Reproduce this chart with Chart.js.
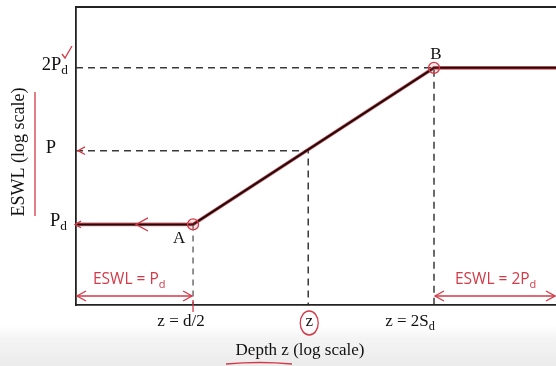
<!DOCTYPE html>
<html>
<head>
<meta charset="utf-8">
<script src="https://cdn.jsdelivr.net/npm/chart.js@4.4.1/dist/chart.umd.min.js"></script>
<style>
  html, body { margin: 0; padding: 0; background: #fff; overflow: hidden; }
</style>
</head>
<body>
<canvas id="chart" width="556" height="366"></canvas>
<script>
// depth (log scale): left edge, A (z = d/2), B (z = 2Sd), right edge
const depthValues = [0.51, 1, 4, 8.07];
// ESWL (log scale) along the curve
const eswlValues = [1, 1, 2, 2];
const depthZ = 1.94;
const eswlP = 1.386;
const xMin = 0.51, xMax = 8.07;
const yMin = 0.703, yMax = 2.618;

const yTickValues = [1, eswlP, 2];
const yTickLabels = [['P', 'd'], ['P', ''], ['2P', 'd']];
const xTickValues = [1, depthZ, 4];
const xTickLabels = [['z = d/2', ''], ['z', ''], ['z = 2S', 'd']];

const RED = '#d23a48';
const SERIF = '"Liberation Serif", "DejaVu Serif", serif';
const SANS = '"Open Sans", "Liberation Sans", sans-serif';

const curve = depthValues.map((x, i) => ({ x, y: eswlValues[i] }));
const guide = { borderColor: '#3a3a3a', borderWidth: 1.5, borderDash: [7, 5], pointRadius: 0, fill: false };

function subText(ctx, main, sub, x, y, size, align) {
  ctx.font = size + 'px ' + SERIF;
  const w1 = ctx.measureText(main).width;
  ctx.font = (size * 0.72) + 'px ' + SERIF;
  const w2 = ctx.measureText(sub).width;
  let left = x;
  if (align === 'right') left = x - w1 - w2;
  if (align === 'center') left = x - (w1 + w2) / 2;
  ctx.textAlign = 'left';
  ctx.textBaseline = 'middle';
  ctx.font = size + 'px ' + SERIF;
  ctx.fillText(main, left, y);
  ctx.font = (size * 0.72) + 'px ' + SERIF;
  ctx.fillText(sub, left + w1, y + size * 0.3);
}

function arrowHead(ctx, x, y, dir, len) {
  ctx.beginPath();
  ctx.moveTo(x + dir * len, y - len * 0.55);
  ctx.lineTo(x, y);
  ctx.lineTo(x + dir * len, y + len * 0.55);
  ctx.stroke();
}

const decor = {
  id: 'decor',
  beforeDraw(chart) {
    const ctx = chart.ctx;
    const g = ctx.createLinearGradient(0, 326, 0, 366);
    g.addColorStop(0, '#ffffff');
    g.addColorStop(0.3, '#f4f4f4');
    g.addColorStop(1, '#ebebeb');
    ctx.save();
    ctx.fillStyle = g;
    ctx.fillRect(0, 326, 556, 40);
    ctx.restore();
  },
  afterDraw(chart) {
    const ctx = chart.ctx;
    const xs = chart.scales.x, ys = chart.scales.y;
    const area = chart.chartArea;
    ctx.save();
    // frame: top line
    ctx.strokeStyle = '#222';
    ctx.lineWidth = 1.8;
    ctx.beginPath();
    ctx.moveTo(area.left, area.top);
    ctx.lineTo(area.right, area.top);
    ctx.stroke();

    // y tick labels
    ctx.fillStyle = '#111';
    const yRight = [67, 56, 68];
    yTickValues.forEach((v, i) => {
      subText(ctx, yTickLabels[i][0], yTickLabels[i][1], yRight[i], ys.getPixelForValue(v) - 3, 18.5, 'right');
    });
    // x tick labels
    const xOff = [-12, 1, -24];
    xTickValues.forEach((v, i) => {
      subText(ctx, xTickLabels[i][0], xTickLabels[i][1], xs.getPixelForValue(v) + xOff[i], 322, 17, 'center');
    });
    // axis titles
    ctx.font = '17px ' + SERIF;
    ctx.textAlign = 'center';
    ctx.textBaseline = 'middle';
    ctx.fillText('Depth z (log scale)', 300, 351);
    ctx.save();
    ctx.translate(19, 152);
    ctx.rotate(-Math.PI / 2);
    ctx.font = '18px ' + SERIF;
    ctx.fillText('ESWL (log scale)', 0, 0);
    ctx.restore();
    // point names
    ctx.font = '17px ' + SERIF;
    ctx.fillText('A', xs.getPixelForValue(1) - 14, ys.getPixelForValue(1) + 14);
    ctx.fillText('B', xs.getPixelForValue(4) + 2, ys.getPixelForValue(2) - 13);

    // red annotations
    ctx.strokeStyle = RED;
    ctx.fillStyle = RED;
    ctx.lineWidth = 1.3;
    const xA = xs.getPixelForValue(1), xB = xs.getPixelForValue(4);
    const yArr = 296;
    ctx.beginPath();
    ctx.moveTo(area.left + 1, yArr); ctx.lineTo(xA - 1, yArr);
    ctx.moveTo(xB + 1, yArr); ctx.lineTo(area.right - 1, yArr);
    ctx.stroke();
    arrowHead(ctx, area.left + 1, yArr, 1, 9);
    arrowHead(ctx, xA - 1, yArr, -1, 9);
    arrowHead(ctx, xB + 1, yArr, 1, 9);
    arrowHead(ctx, area.right - 1, yArr, -1, 9);
    ctx.beginPath();
    ctx.moveTo(xA, 300); ctx.lineTo(xA, 312);
    ctx.stroke();

    ctx.font = '15.5px ' + SANS;
    ctx.textAlign = 'left';
    ctx.textBaseline = 'middle';
    ctx.fillText('ESWL = P', 93, 280);
    let w = ctx.measureText('ESWL = P').width;
    ctx.font = '11px ' + SANS;
    ctx.fillText('d', 93 + w, 285);
    ctx.font = '15.5px ' + SANS;
    ctx.fillText('ESWL = 2P', 455, 280);
    w = ctx.measureText('ESWL = 2P').width;
    ctx.font = '11px ' + SANS;
    ctx.fillText('d', 455 + w, 285);

    // arrows toward the ESWL axis
    const yPd = ys.getPixelForValue(1), yP = ys.getPixelForValue(eswlP);
    arrowHead(ctx, 136, yPd, 1, 12);
    arrowHead(ctx, area.left + 2, yP, 1, 7);
    arrowHead(ctx, area.left - 1, yPd, 1, 6);

    // tick mark on 2Pd, circle on z, underlines
    ctx.beginPath();
    ctx.moveTo(62, 54); ctx.lineTo(65, 58); ctx.lineTo(72, 46);
    ctx.stroke();
    ctx.beginPath();
    ctx.ellipse(xs.getPixelForValue(depthZ) + 1, 323, 9, 12, 0, 0, Math.PI * 2);
    ctx.stroke();
    ctx.beginPath();
    ctx.moveTo(35, 92); ctx.lineTo(35, 216);
    ctx.moveTo(226, 364); ctx.quadraticCurveTo(260, 361, 292, 364);
    ctx.stroke();
    ctx.restore();
  }
};

// datasets with a lower index are drawn on top
new Chart(document.getElementById('chart'), {
  type: 'line',
  data: {
    datasets: [
      {
        data: [{ x: 1, y: 1 }, { x: 4, y: 2 }],
        showLine: false, pointRadius: 5.5, pointBorderColor: RED,
        pointBackgroundColor: 'rgba(230,90,100,0.15)', pointBorderWidth: 1.3
      },
      { data: curve, borderColor: '#1e0c0c', borderWidth: 2, pointRadius: 0, fill: false },
      { data: curve, borderColor: 'rgba(215,60,70,0.8)', borderWidth: 3.6, pointRadius: 0, fill: false },
      { data: [{ x: xMin, y: 2 }, { x: 4, y: 2 }, { x: 4, y: yMin }], ...guide },
      { data: [{ x: xMin, y: eswlP }, { x: depthZ, y: eswlP }, { x: depthZ, y: yMin }], ...guide },
      { data: [{ x: 1, y: 1 }, { x: 1, y: yMin }], ...guide, borderWidth: 1.1, borderDash: [6, 5] }
    ]
  },
  options: {
    responsive: false,
    animation: false,
    layout: { autoPadding: false, padding: { left: 76, top: 7, right: 0, bottom: 61 } },
    plugins: { legend: { display: false }, tooltip: { enabled: false } },
    scales: {
      x: {
        type: 'logarithmic', min: xMin, max: xMax,
        grid: { display: false, drawTicks: false },
        border: { display: true, color: '#222', width: 1.8 },
        ticks: { display: false },
        afterFit(s) { s.height = 0; s.paddingLeft = 0; s.paddingRight = 0; }
      },
      y: {
        type: 'logarithmic', min: yMin, max: yMax,
        grid: { display: false, drawTicks: false },
        border: { display: true, color: '#222', width: 1.8 },
        ticks: { display: false },
        afterFit(s) { s.width = 0; s.paddingTop = 0; s.paddingBottom = 0; }
      }
    }
  },
  plugins: [decor]
});
</script>
</body>
</html>
